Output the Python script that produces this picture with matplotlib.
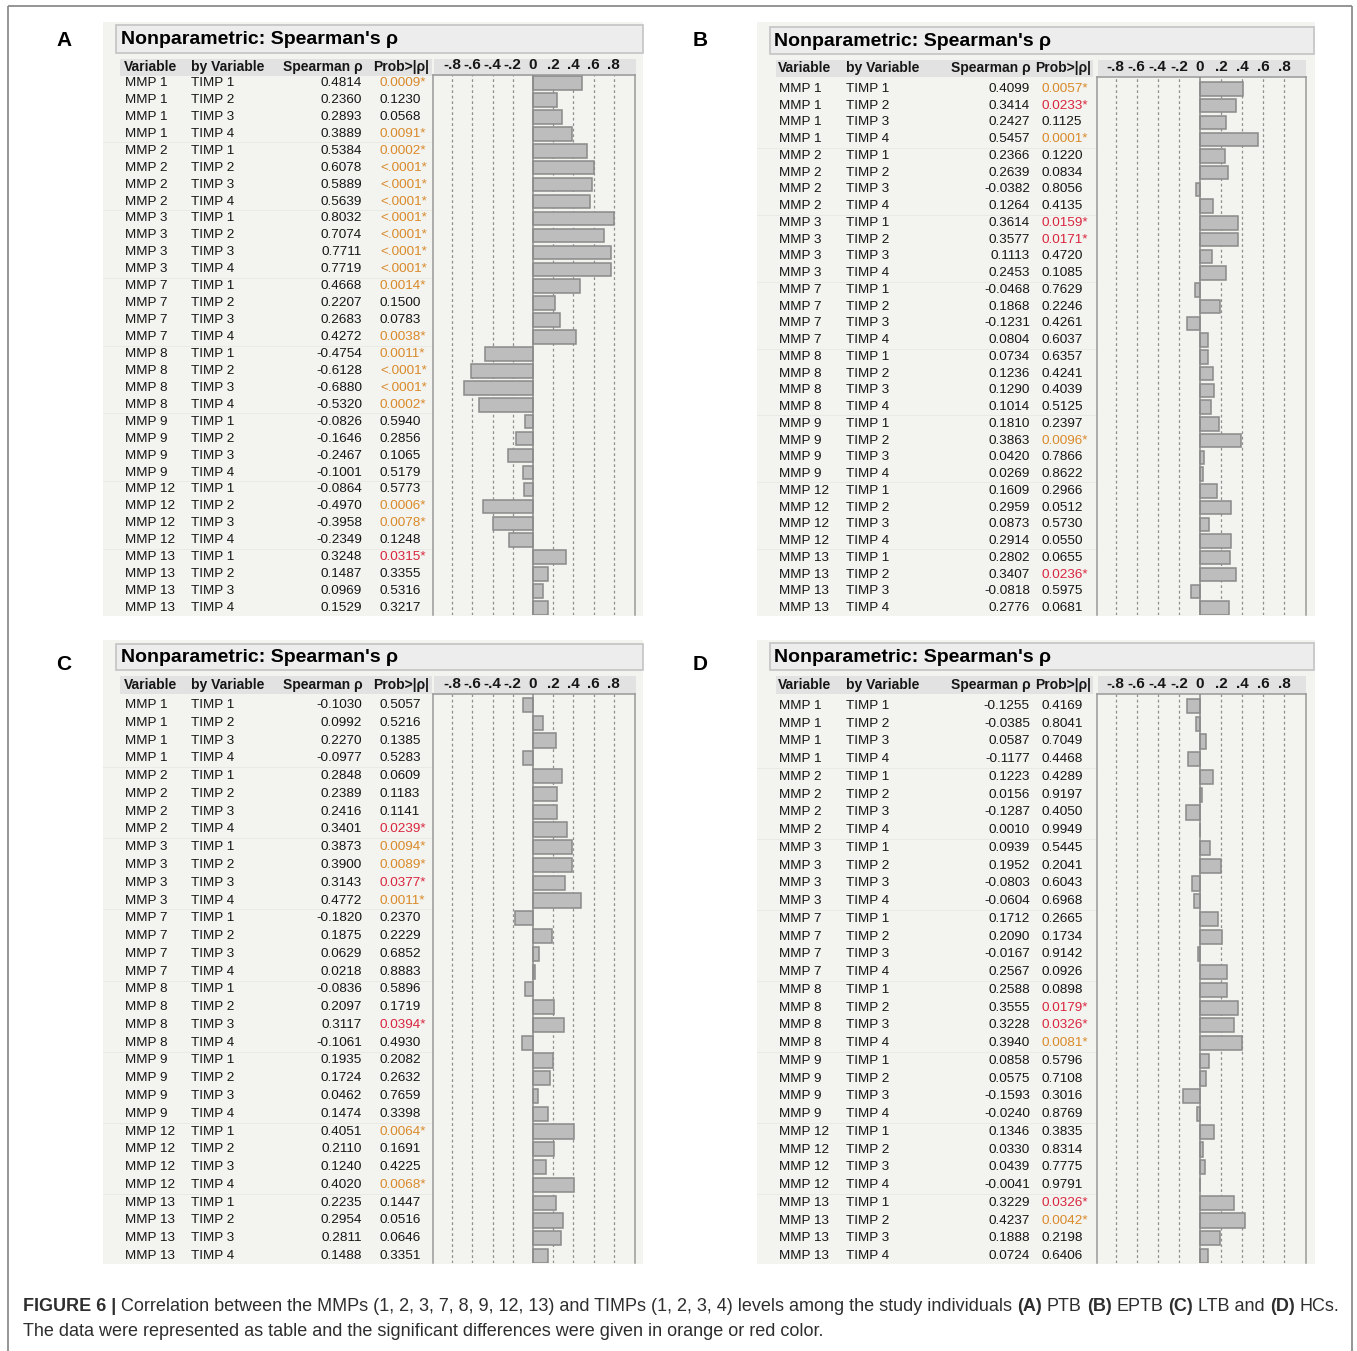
import matplotlib
matplotlib.use("Agg")
import matplotlib.pyplot as plt
from matplotlib.patches import Rectangle

plt.rcParams['font.family'] = ['Liberation Sans', 'DejaVu Sans']

W, H = 1357, 1351

# ---------------- data ----------------
mmps = ["MMP 1", "MMP 2", "MMP 3", "MMP 7", "MMP 8", "MMP 9", "MMP 12", "MMP 13"]
timps = ["TIMP 1", "TIMP 2", "TIMP 3", "TIMP 4"]
row_mmp = [m for m in mmps for _ in timps]
row_timp = [t for _ in mmps for t in timps]

header_labels = ["Variable", "by Variable", "Spearman \u03c1", "Prob>|\u03c1|"]
title_text = "Nonparametric: Spearman's \u03c1"
tick_values = [-0.8, -0.6, -0.4, -0.2, 0.0, 0.2, 0.4, 0.6, 0.8]
tick_labels = ["-.8", "-.6", "-.4", "-.2", "0", ".2", ".4", ".6", ".8"]

rho_A = [0.4814, 0.2360, 0.2893, 0.3889, 0.5384, 0.6078, 0.5889, 0.5639,
         0.8032, 0.7074, 0.7711, 0.7719, 0.4668, 0.2207, 0.2683, 0.4272,
         -0.4754, -0.6128, -0.6880, -0.5320, -0.0826, -0.1646, -0.2467, -0.1001,
         -0.0864, -0.4970, -0.3958, -0.2349, 0.3248, 0.1487, 0.0969, 0.1529]
prob_A = ["0.0009*", "0.1230", "0.0568", "0.0091*", "0.0002*", "<.0001*", "<.0001*", "<.0001*",
          "<.0001*", "<.0001*", "<.0001*", "<.0001*", "0.0014*", "0.1500", "0.0783", "0.0038*",
          "0.0011*", "<.0001*", "<.0001*", "0.0002*", "0.5940", "0.2856", "0.1065", "0.5179",
          "0.5773", "0.0006*", "0.0078*", "0.1248", "0.0315*", "0.3355", "0.5316", "0.3217"]

rho_B = [0.4099, 0.3414, 0.2427, 0.5457, 0.2366, 0.2639, -0.0382, 0.1264,
         0.3614, 0.3577, 0.1113, 0.2453, -0.0468, 0.1868, -0.1231, 0.0804,
         0.0734, 0.1236, 0.1290, 0.1014, 0.1810, 0.3863, 0.0420, 0.0269,
         0.1609, 0.2959, 0.0873, 0.2914, 0.2802, 0.3407, -0.0818, 0.2776]
prob_B = ["0.0057*", "0.0233*", "0.1125", "0.0001*", "0.1220", "0.0834", "0.8056", "0.4135",
          "0.0159*", "0.0171*", "0.4720", "0.1085", "0.7629", "0.2246", "0.4261", "0.6037",
          "0.6357", "0.4241", "0.4039", "0.5125", "0.2397", "0.0096*", "0.7866", "0.8622",
          "0.2966", "0.0512", "0.5730", "0.0550", "0.0655", "0.0236*", "0.5975", "0.0681"]

rho_C = [-0.1030, 0.0992, 0.2270, -0.0977, 0.2848, 0.2389, 0.2416, 0.3401,
         0.3873, 0.3900, 0.3143, 0.4772, -0.1820, 0.1875, 0.0629, 0.0218,
         -0.0836, 0.2097, 0.3117, -0.1061, 0.1935, 0.1724, 0.0462, 0.1474,
         0.4051, 0.2110, 0.1240, 0.4020, 0.2235, 0.2954, 0.2811, 0.1488]
prob_C = ["0.5057", "0.5216", "0.1385", "0.5283", "0.0609", "0.1183", "0.1141", "0.0239*",
          "0.0094*", "0.0089*", "0.0377*", "0.0011*", "0.2370", "0.2229", "0.6852", "0.8883",
          "0.5896", "0.1719", "0.0394*", "0.4930", "0.2082", "0.2632", "0.7659", "0.3398",
          "0.0064*", "0.1691", "0.4225", "0.0068*", "0.1447", "0.0516", "0.0646", "0.3351"]

rho_D = [-0.1255, -0.0385, 0.0587, -0.1177, 0.1223, 0.0156, -0.1287, 0.0010,
         0.0939, 0.1952, -0.0803, -0.0604, 0.1712, 0.2090, -0.0167, 0.2567,
         0.2588, 0.3555, 0.3228, 0.3940, 0.0858, 0.0575, -0.1593, -0.0240,
         0.1346, 0.0330, 0.0439, -0.0041, 0.3229, 0.4237, 0.1888, 0.0724]
prob_D = ["0.4169", "0.8041", "0.7049", "0.4468", "0.4289", "0.9197", "0.4050", "0.9949",
          "0.5445", "0.2041", "0.6043", "0.6968", "0.2665", "0.1734", "0.9142", "0.0926",
          "0.0898", "0.0179*", "0.0326*", "0.0081*", "0.5796", "0.7108", "0.3016", "0.8769",
          "0.3835", "0.8314", "0.7775", "0.9791", "0.0326*", "0.0042*", "0.2198", "0.6406"]

caption_line1 = [("FIGURE 6 |", True),
                 ("Correlation between the MMPs (1, 2, 3, 7, 8, 9, 12, 13) and TIMPs (1, 2, 3, 4) "
                  "levels among the study individuals", False),
                 ("(A)", True), ("PTB", False), ("(B)", True), ("EPTB", False),
                 ("(C)", True), ("LTB and", False), ("(D)", True), ("HCs.", False)]
caption_line2 = [("The data were represented as table and the significant differences "
                  "were given in orange or red color.", False)]

# ---------------- styling / layout (pixel units) ----------------
PANEL_BG = "#f3f3ef"
TITLE_FACE = "#ededed"
TITLE_EDGE = "#c4c4c4"
HEADER_FACE = "#e2e2e2"
TEXT = "#161616"
BAR_FACE = "#bdbdbd"
BAR_EDGE = "#8a8a8a"
ORANGE = "#d98a2b"
RED = "#d9263f"
FS = 9.7
FS_HEAD = 10.0
FS_TICK = 11.0

panels = [
    dict(letter="A", rho=rho_A, prob=prob_A, letter_xy=(64, 40),
         bg=(103, 22, 643, 616), title=(116, 25, 643, 53), title_x=121,
         hband=(120, 59, 432, 76), aband=(434, 59, 636, 76), header_y=67,
         row0=83, row_last=608, var_x=125, by_x=191, rho_r=362, prob_hx=373, p_x=380,
         box=(433, 75, 635, 615), zero=533, ppu=101.0),
    dict(letter="B", rho=rho_B, prob=prob_B, letter_xy=(700, 40),
         bg=(757, 22, 1315, 616), title=(770, 27, 1314, 54), title_x=774,
         hband=(776, 60, 1093, 77), aband=(1098, 60, 1306, 77), header_y=68,
         row0=89, row_last=608, var_x=779, by_x=846, rho_r=1030, prob_hx=1035, p_x=1042,
         box=(1097, 77, 1306, 615), zero=1200, ppu=105.6),
    dict(letter="C", rho=rho_C, prob=prob_C, letter_xy=(64, 664),
         bg=(103, 640, 643, 1264), title=(116, 644, 643, 670), title_x=121,
         hband=(120, 676, 432, 694), aband=(434, 676, 636, 694), header_y=685,
         row0=705, row_last=1256, var_x=125, by_x=191, rho_r=362, prob_hx=373, p_x=380,
         box=(433, 694, 635, 1263), zero=533, ppu=101.0),
    dict(letter="D", rho=rho_D, prob=prob_D, letter_xy=(700, 664),
         bg=(757, 640, 1315, 1264), title=(770, 643, 1314, 670), title_x=774,
         hband=(776, 676, 1093, 694), aband=(1098, 676, 1306, 694), header_y=685,
         row0=706, row_last=1256, var_x=779, by_x=846, rho_r=1030, prob_hx=1035, p_x=1042,
         box=(1097, 694, 1306, 1263), zero=1200, ppu=105.6),
]


def prob_color(s):
    if not s.endswith("*"):
        return TEXT
    p = float(s.rstrip("*").lstrip("<"))
    return ORANGE if p < 0.01 else RED


def fig_rect(x0, y0, x1, y1):
    return [x0 / W, 1 - y1 / H, (x1 - x0) / W, (y1 - y0) / H]


fig = plt.figure(figsize=(W / 100, H / 100), dpi=100)
fig.patch.set_facecolor("white")

# overlay in pixel coordinates for boxes, titles and caption
ov = fig.add_axes([0, 0, 1, 1], zorder=0)
ov.set_xlim(0, W)
ov.set_ylim(H, 0)
ov.axis("off")

# outer frame
frame_kw = dict(color="#8c8c8c", lw=1.3, solid_capstyle="butt")
ov.plot([8, 8], [6, H], **frame_kw)
ov.plot([8, 1352], [6, 6], **frame_kw)
ov.plot([1352, 1352], [6, H], **frame_kw)


def rect(x0, y0, x1, y1, **kw):
    ov.add_patch(Rectangle((x0, y0), x1 - x0, y1 - y0, **kw))


for P in panels:
    n = len(P["rho"])
    rect(*P["bg"], facecolor=PANEL_BG, edgecolor="none")
    rect(*P["title"], facecolor=TITLE_FACE, edgecolor=TITLE_EDGE, lw=1.2)
    rect(*P["hband"], facecolor=HEADER_FACE, edgecolor="none")
    rect(*P["aband"], facecolor=HEADER_FACE, edgecolor="none")
    ov.text(P["letter_xy"][0], P["letter_xy"][1], P["letter"], fontsize=15,
            fontweight="bold", ha="center", va="center", color="black")
    ty = (P["title"][1] + P["title"][3]) / 2
    ov.text(P["title_x"], ty + 1, title_text, fontsize=14, fontweight="bold",
            ha="left", va="center", color="black")
    hy = P["header_y"]
    ov.text(P["var_x"] - 1, hy, header_labels[0], fontsize=FS_HEAD, fontweight="bold",
            ha="left", va="center", color=TEXT)
    ov.text(P["by_x"], hy, header_labels[1], fontsize=FS_HEAD, fontweight="bold",
            ha="left", va="center", color=TEXT)
    ov.text(P["rho_r"] + 1, hy, header_labels[2], fontsize=FS_HEAD, fontweight="bold",
            ha="right", va="center", color=TEXT)
    ov.text(P["prob_hx"], hy, header_labels[3], fontsize=FS_HEAD, fontweight="bold",
            ha="left", va="center", color=TEXT)

    bx0, by0, bx1, by1 = P["box"]
    sp = (P["row_last"] - P["row0"]) / (n - 1)
    ylim = ((by1 - P["row0"]) / sp, (by0 - P["row0"]) / sp)
    rows = list(range(n))

    # table columns
    tx0 = P["bg"][0]
    axt = fig.add_axes(fig_rect(tx0, by0, bx0, by1), zorder=1)
    axt.set_xlim(tx0, bx0)
    axt.set_ylim(*ylim)
    axt.axis("off")
    for g in range(1, len(mmps)):
        axt.axhline(g * len(timps) - 0.5, color="#eaeae5", lw=0.7, zorder=0)
    for i in rows:
        axt.text(P["var_x"], i, row_mmp[i], fontsize=FS, ha="left", va="center", color=TEXT)
        axt.text(P["by_x"], i, row_timp[i], fontsize=FS, ha="left", va="center", color=TEXT)
        axt.text(P["rho_r"], i, f"{P['rho'][i]:.4f}", fontsize=FS, ha="right",
                 va="center", color=TEXT)
        axt.text(P["p_x"], i, P["prob"][i], fontsize=FS, ha="left", va="center",
                 color=prob_color(P["prob"][i]))

    # bar chart of rho
    axb = fig.add_axes(fig_rect(bx0, by0, bx1, by1), zorder=2)
    axb.patch.set_alpha(0)
    axb.set_xlim((bx0 - P["zero"]) / P["ppu"], (bx1 - P["zero"]) / P["ppu"])
    axb.set_ylim(*ylim)
    for t in tick_values:
        if t == 0:
            continue
        axb.axvline(t, color="#8f8f8f", lw=0.9, ls=(0, (2.2, 2.2)), zorder=1)
    axb.barh(rows, P["rho"], height=0.8, color=BAR_FACE, edgecolor=BAR_EDGE,
             lw=1.1, zorder=2)
    axb.axvline(0, color="#8a8a8a", lw=1.1, zorder=3)
    axb.set_yticks([])
    axb.xaxis.tick_top()
    axb.set_xticks(tick_values)
    axb.set_xticklabels(tick_labels, fontweight="bold", fontsize=FS_TICK, color=TEXT)
    axb.tick_params(axis="x", length=0, pad=2.0)
    for side in ("left", "right", "top"):
        axb.spines[side].set_color("#9a9a9a")
        axb.spines[side].set_linewidth(1.1)
    axb.spines["bottom"].set_visible(False)

# caption with mixed bold / regular runs
renderer = fig.canvas.get_renderer()
CAP_FAMILY = ["Liberation Sans Narrow", "Liberation Sans"]
CAP_COLOR = "#2e2e2e"


def run_width(s, size, bold):
    t = ov.text(0, 0, s, fontsize=size, fontweight="bold" if bold else "normal",
                family=CAP_FAMILY)
    w = t.get_window_extent(renderer).width
    t.remove()
    return w


def line_width(runs, size):
    space = run_width("x x", size, False) - run_width("xx", size, False)
    return sum(run_width(s, size, b) for s, b in runs) + space * (len(runs) - 1)


base = 12.0
cap_size = base * (1317.0 / line_width(caption_line1, base))


def draw_runs(runs, x, y, size):
    space = run_width("x x", size, False) - run_width("xx", size, False)
    for s, b in runs:
        ov.text(x, y, s, fontsize=size, fontweight="bold" if b else "normal",
                family=CAP_FAMILY, ha="left", va="baseline", color=CAP_COLOR)
        x += run_width(s, size, b) + space


draw_runs(caption_line1, 23, 1311, cap_size)
draw_runs(caption_line2, 23, 1336, cap_size)

fig.savefig("out.png", dpi=100, facecolor="white")
